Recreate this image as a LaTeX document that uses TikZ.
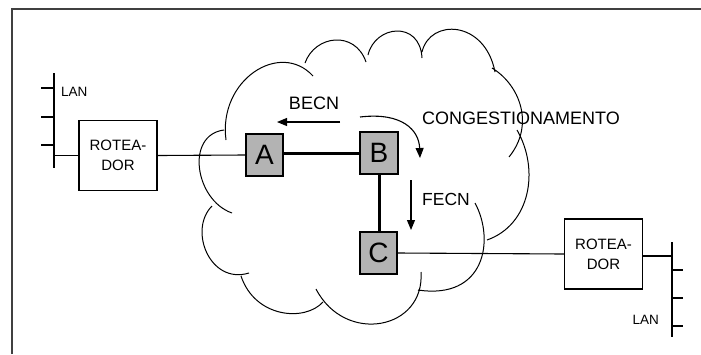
\documentclass[tikz,border=0pt]{standalone}
\usepackage{fontspec}
\setmainfont{Liberation Sans}
\usetikzlibrary{arrows.meta}
\definecolor{boxgray}{HTML}{B3B3B3}
\definecolor{framegray}{HTML}{404040}
\begin{document}
\begin{tikzpicture}[x=1pt,y=-1pt,
  thinline/.style={line width=1.1pt,black},
  thickline/.style={line width=3pt,black},
  cloudline/.style={line width=1pt,black},
  router/.style={draw,line width=1.3pt,minimum width=78pt,minimum height=70pt,inner sep=0pt,align=center,font=\fontsize{15}{20}\selectfont},
  switchbox/.style={draw,line width=1.3pt,fill=boxgray,minimum width=37pt,minimum height=42pt,inner sep=0pt,font=\fontsize{28}{28}\selectfont},
  lbl/.style={inner sep=0pt,font=\fontsize{18}{18}\selectfont},
  lanlbl/.style={inner sep=0pt,font=\fontsize{13.5}{13.5}\selectfont},
  arr/.style={line width=1.1pt,-{Triangle[length=10pt,width=8pt]}}]
\useasboundingbox (0,0) rectangle (701,354);
% frame
\draw[line width=2pt,framegray] (12,354) -- (12,9) -- (701,9);
% cloud
\draw[cloudline]
  (226,140) .. controls (218,80) and (280,40) .. (313,76)
  (305,63) .. controls (315,35) and (355,30) .. (366,62)
  (368,55) .. controls (375,25) and (420,20) .. (422,58)
  (422,52) .. controls (430,18) and (485,20) .. (495,72)
  (492,68) .. controls (520,85) and (535,125) .. (509,157)
  (517,130) .. controls (540,170) and (530,225) .. (487,240)
  (475,203) .. controls (495,240) and (485,300) .. (418,290)
  (421,272) .. controls (425,330) and (345,345) .. (316,289)
  (323,302) .. controls (305,322) and (255,318) .. (241,276)
  (249,273) .. controls (210,285) and (188,230) .. (212,206)
  (232,213) .. controls (195,200) and (185,135) .. (224,130);
% nodes
\node[router] (R1) at (118,155.5) {ROTEA-\\DOR};
\node[router] (R2) at (603.5,254) {ROTEA-\\DOR};
\node[switchbox] (A) at (264.5,155) {A};
\node[switchbox,minimum width=38pt] (B) at (379,153) {B};
\node[switchbox] (C) at (378.5,253) {C};
% LANs
\coordinate (L1t) at (54,73);
\coordinate (L1b) at (54,168);
\coordinate (L1c) at (54,155.5);
\draw[thinline] (L1t) -- (L1b);
\foreach \y in {88,117,145} \draw[thinline] (41,\y) -- (54,\y);
\node[lanlbl,anchor=west] (lan1) at (61,92) {LAN};
\draw[thinline] (L1c) -- (R1.west);
\coordinate (L2t) at (672,242);
\coordinate (L2b) at (672,337);
\coordinate (L2c) at (672,256);
\draw[thinline] (L2t) -- (L2b);
\foreach \y in {270,298,326} \draw[thinline] (672,\y) -- (683,\y);
\node[lanlbl,anchor=east] (lan2) at (659,320) {LAN};
\draw[thinline] (R2.east |- L2c) -- (L2c);
% links
\draw[thinline] (R1.east) -- (A.west);
\draw[thickline] (A.east |- B.west) -- (B.west);
\draw[thickline] (B.south) -- (B.south |- C.north);
\draw[thinline] (C.east) -- (R2.west);
% labels and arrows
\node[lbl] (becn) at (314,103) {BECN};
\coordinate (b1) at (340,122);
\coordinate (b2) at (277,122);
\draw[arr] (b1) -- (b2);
\node[lbl] (cong) at (521,118) {CONGESTIONAMENTO};
\coordinate (c1) at (360,117);
\coordinate (c2) at (420,158);
\draw[arr] (c1) .. controls (402,112) and (419,130) .. (c2);
\node[lbl,font=\fontsize{17.5}{17.5}\selectfont] (fecn) at (446,199) {FECN};
\coordinate (f1) at (411,180);
\coordinate (f2) at (411,230);
\draw[arr] (f1) -- (f2);
\end{tikzpicture}
\end{document}
